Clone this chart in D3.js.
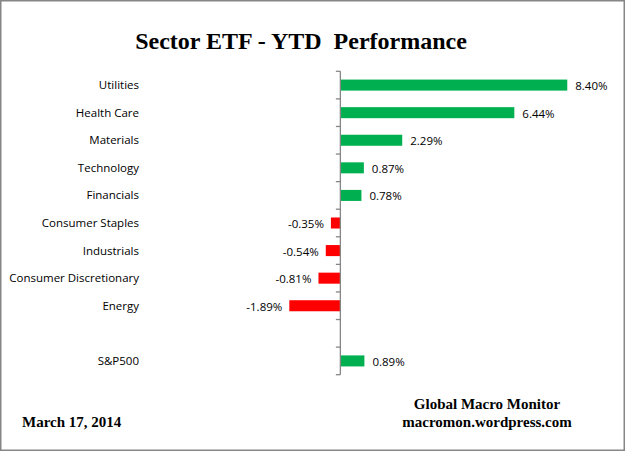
<!DOCTYPE html>
<html>
<head>
<meta charset="utf-8">
<script src="https://cdn.jsdelivr.net/npm/d3@7"></script>
<style>
body{margin:0;background:#fff;}
svg{display:block;}
</style>
</head>
<body>
<div id="chart"></div>
<script>
// sectors, top to bottom; "" is the empty gap row before S&P500
const categories=["Utilities","Health Care","Materials","Technology","Financials",
  "Consumer Staples","Industrials","Consumer Discretionary","Energy","","S&P500"];
const values=[8.40,6.44,2.29,0.87,0.78,-0.35,-0.54,-0.81,-1.89,null,0.89];
const xDomain=[-12.6,10.5];

const width=626,height=455;
const svg=d3.select("#chart").append("svg")
  .attr("width",width)
  .attr("height",height);

// outer frame
svg.append("rect")
  .attr("x",0.75).attr("y",0.75)
  .attr("width",623.5).attr("height",449.5)
  .attr("fill","#fff")
  .attr("stroke","#868686")
  .attr("stroke-width",1.5);

// title
svg.append("text")
  .attr("x",301).attr("y",49)
  .attr("text-anchor","middle")
  .attr("font-family","Liberation Serif")
  .attr("font-weight","bold")
  .attr("font-size","24px")
  .attr("fill","#000")
  .style("white-space","pre")
  .text("Sector ETF - YTD  Performance");

const xScale=d3.scaleLinear().domain(xDomain).range([0,624]);
const yScale=d3.scaleBand().domain(d3.range(categories.length))
  .range([71.3,374.7]).paddingInner(0.6).paddingOuter(0.3);

const data=categories.map((c,i)=>({label:c,value:values[i],i:i}));
const x0=xScale(0);
// plain hyphen for negatives, like the original
const fmt=v=>(v<0?"-":"")+Math.abs(v).toFixed(2)+"%";

// bars
svg.append("g").selectAll("rect")
  .data(data.filter(d=>d.value!==null))
  .enter().append("rect")
  .attr("x",d=>Math.min(xScale(d.value),x0))
  .attr("y",d=>yScale(d.i))
  .attr("width",d=>Math.abs(xScale(d.value)-x0))
  .attr("height",yScale.bandwidth())
  .attr("fill",d=>d.value>=0?"#00b050":"#ff0000");

// axis line with tick marks at band boundaries
const step=yScale.step();
const axisTop=yScale.range()[0];
const axis=svg.append("g").attr("stroke","#868686").attr("stroke-width",1.3);
axis.append("line")
  .attr("x1",x0).attr("x2",x0)
  .attr("y1",axisTop).attr("y2",axisTop+step*categories.length);
axis.selectAll("line.tick")
  .data(d3.range(categories.length+1))
  .enter().append("line")
  .attr("class","tick")
  .attr("x1",x0-4.5).attr("x2",x0)
  .attr("y1",d=>axisTop+d*step).attr("y2",d=>axisTop+d*step);

// category labels
svg.append("g").selectAll("text")
  .data(data)
  .enter().append("text")
  .attr("x",139)
  .attr("y",d=>yScale(d.i)+yScale.bandwidth()/2)
  .attr("dy","0.35em")
  .attr("text-anchor","end")
  .attr("font-family","Open Sans")
  .attr("font-size","11.5px")
  .attr("fill","#000")
  .text(d=>d.label);

// value labels
svg.append("g").selectAll("text")
  .data(data.filter(d=>d.value!==null))
  .enter().append("text")
  .attr("x",d=>d.value>=0?xScale(d.value)+8:xScale(d.value)-7)
  .attr("y",d=>yScale(d.i)+yScale.bandwidth()/2+1)
  .attr("dy","0.35em")
  .attr("text-anchor",d=>d.value>=0?"start":"end")
  .attr("font-family","Open Sans")
  .attr("font-size","11.5px")
  .attr("fill","#000")
  .text(d=>fmt(d.value));

// footer
const foot=svg.append("g")
  .attr("font-family","Liberation Serif")
  .attr("font-weight","bold")
  .attr("font-size","15px")
  .attr("fill","#000");
foot.append("text").attr("x",22).attr("y",427).text("March 17, 2014");
foot.append("text").attr("x",487).attr("y",409).attr("text-anchor","middle").text("Global Macro Monitor");
foot.append("text").attr("x",487).attr("y",427).attr("text-anchor","middle").text("macromon.wordpress.com");
</script>
</body>
</html>
